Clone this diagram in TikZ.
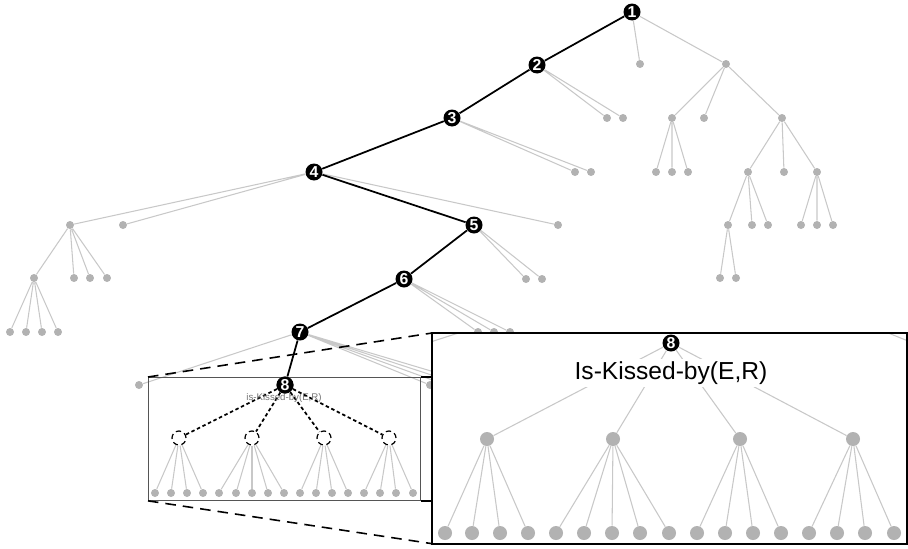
\documentclass[tikz,border=0pt]{standalone}
\usepackage{fontspec}
\setmainfont{Liberation Sans}
\definecolor{edgegray}{RGB}{200,200,200}
\definecolor{dotgray}{RGB}{178,178,178}
\definecolor{framegray}{RGB}{85,85,85}
\tikzset{
	stepnode/.style={circle,fill=black,text=white,inner sep=0pt,minimum size=0.34cm,font=\fontsize{9}{9}\selectfont\bfseries},
	leaf/.style={circle,fill=dotgray,inner sep=0pt,minimum size=0.16cm},
	bigleaf/.style={circle,fill=dotgray,inner sep=0pt,minimum size=0.28cm},
	openslot/.style={circle,draw=black,densely dashed,fill=white,inner sep=0pt,minimum size=0.28cm,line width=0.7pt},
	grayedge/.style={draw=edgegray,line width=0.6pt},
	pathedge/.style={draw=black,line width=1pt},
	guessedge/.style={draw=black,line width=1pt,dash pattern=on 2pt off 1.5pt},
	zoomline/.style={draw=black,line width=0.9pt,dash pattern=on 6pt off 4pt},
}
\begin{document}
\begin{tikzpicture}[x=0.02cm,y=-0.02cm]
		\useasboundingbox (0,0) rectangle (908,548);
		
		% the search path
		\node[stepnode] (n1) at (632,12) {1};
		\node[stepnode] (n2) at (537,65) {2};
		\node[stepnode] (n3) at (452,118) {3};
		\node[stepnode] (n4) at (314,172) {4};
		\node[stepnode] (n5) at (474,225) {5};
		\node[stepnode] (n6) at (404,279) {6};
		\node[stepnode] (n7) at (300,332) {7};
		\node[stepnode] (n8) at (285,385) {8};
		
		% gray nodes, right part
		\node[leaf] (a1) at (640,64) {};
		\node[leaf] (r0) at (726,64) {};
		\node[leaf] (ra) at (672,118) {};
		\node[leaf] (rb) at (704,118) {};
		\node[leaf] (rc) at (782,118) {};
		\node[leaf] (ra1) at (656,172) {};
		\node[leaf] (ra2) at (672,172) {};
		\node[leaf] (ra3) at (688,172) {};
		\node[leaf] (rca) at (748,172) {};
		\node[leaf] (rcb) at (784,172) {};
		\node[leaf] (rcc) at (817,172) {};
		\node[leaf] (rca1) at (728,225) {};
		\node[leaf] (rca2) at (752,225) {};
		\node[leaf] (rca3) at (768,225) {};
		\node[leaf] (rcc1) at (801,225) {};
		\node[leaf] (rcc2) at (817,225) {};
		\node[leaf] (rcc3) at (833,225) {};
		\node[leaf] (rcaa1) at (720,278) {};
		\node[leaf] (rcaa2) at (736,278) {};
		
		% gray nodes along the path
		\node[leaf] (b1) at (607,118) {};
		\node[leaf] (b2) at (623,118) {};
		\node[leaf] (c1) at (575,172) {};
		\node[leaf] (c2) at (591,172) {};
		\node[leaf] (d1) at (70,225) {};
		\node[leaf] (d2) at (123,225) {};
		\node[leaf] (d3) at (558,225) {};
		\node[leaf] (da) at (34,278) {};
		\node[leaf] (db) at (74,278) {};
		\node[leaf] (dc) at (90,278) {};
		\node[leaf] (dd) at (107,278) {};
		\node[leaf] (daa) at (10,332) {};
		\node[leaf] (dab) at (26,332) {};
		\node[leaf] (dac) at (42,332) {};
		\node[leaf] (dad) at (58,332) {};
		\node[leaf] (e1) at (526,279) {};
		\node[leaf] (e2) at (542,279) {};
		\node[leaf] (f1) at (478,332) {};
		\node[leaf] (f2) at (494,332) {};
		\node[leaf] (f3) at (510,332) {};
		\node[leaf] (g1) at (139,385) {};
		\node[leaf] (g2) at (430,385) {};
		\coordinate (g3) at (446,385);
		\coordinate (g4) at (462,385);
		\coordinate (g5) at (478,385);
		
		% gray edges
		\draw[grayedge] (n1) -- (a1) (n1) -- (r0);
		\draw[grayedge] (r0) -- (ra) (r0) -- (rb) (r0) -- (rc);
		\draw[grayedge] (ra) -- (ra1) (ra) -- (ra2) (ra) -- (ra3);
		\draw[grayedge] (rc) -- (rca) (rc) -- (rcb) (rc) -- (rcc);
		\draw[grayedge] (rca) -- (rca1) (rca) -- (rca2) (rca) -- (rca3);
		\draw[grayedge] (rcc) -- (rcc1) (rcc) -- (rcc2) (rcc) -- (rcc3);
		\draw[grayedge] (rca1) -- (rcaa1) (rca1) -- (rcaa2);
		\draw[grayedge] (n2) -- (b1) (n2) -- (b2);
		\draw[grayedge] (n3) -- (c1) (n3) -- (c2);
		\draw[grayedge] (n4) -- (d1) (n4) -- (d2) (n4) -- (d3);
		\draw[grayedge] (d1) -- (da) (d1) -- (db) (d1) -- (dc) (d1) -- (dd);
		\draw[grayedge] (da) -- (daa) (da) -- (dab) (da) -- (dac) (da) -- (dad);
		\draw[grayedge] (n5) -- (e1) (n5) -- (e2);
		\draw[grayedge] (n6) -- (f1) (n6) -- (f2) (n6) -- (f3);
		\draw[grayedge] (n7) -- (g1) (n7) -- (g2) (n7) -- (g3) (n7) -- (g4) (n7) -- (g5);
		
		% black path
		\draw[pathedge] (n1) -- (n2) -- (n3) -- (n4) -- (n5) -- (n6) -- (n7) -- (n8);
		
		% small box round node 8
		\node[draw=framegray,line width=0.5pt,minimum width=5.44cm,minimum height=2.46cm,anchor=north west,inner sep=0pt] (sbox) at (148,377) {};
		\node[openslot] (s1) at (179,438) {};
		\node[openslot] (s2) at (252,438) {};
		\node[openslot] (s3) at (324,438) {};
		\node[openslot] (s4) at (389,438) {};
		\foreach \k in {1,...,4}
			\draw[guessedge] (n8) -- (s\k);
		\node[text=black!55,font=\fontsize{5.5}{5.5}\selectfont] (slabel) at (284,398) {is-Kissed-by(E,R)};
		\node[stepnode] at (n8) {8};
		\foreach \x [count=\i] in {155,171,187,203,219,236,252,268,284,300,316,332,348,364,380,396,413}
			\node[leaf] (sl\i) at (\x,493) {};
		\foreach \i in {1,...,4} \draw[grayedge] (s1) -- (sl\i);
		\foreach \i in {5,...,9} \draw[grayedge] (s2) -- (sl\i);
		\foreach \i in {10,...,13} \draw[grayedge] (s3) -- (sl\i);
		\foreach \i in {14,...,17} \draw[grayedge] (s4) -- (sl\i);
		
		% big box, zoomed view
		\node[fill=white,minimum width=9.48cm,minimum height=4.2cm,anchor=north west,inner sep=0pt] (bbox) at (432,333) {};
		\begin{scope}
			\clip (bbox.north west) rectangle (bbox.south east);
			\coordinate (z7) at (697,256);
			\coordinate (zg1) at (415,347);
			\coordinate (zg2) at (923,347);
			\draw[grayedge] (z7) -- (zg1) (z7) -- (zg2);
		\end{scope}
		\node[bigleaf] (bc1) at (487,439) {};
		\node[bigleaf] (bc2) at (613,439) {};
		\node[bigleaf] (bc3) at (740,439) {};
		\node[bigleaf] (bc4) at (853,439) {};
		\foreach \x [count=\i] in {445,472,500,528,556,584,612,640,669,697,725,753,781,809,837,865,894}
			\node[bigleaf] (bl\i) at (\x,533) {};
		\foreach \i in {1,...,4} \draw[grayedge] (bc1) -- (bl\i);
		\foreach \i in {5,...,9} \draw[grayedge] (bc2) -- (bl\i);
		\foreach \i in {10,...,13} \draw[grayedge] (bc3) -- (bl\i);
		\foreach \i in {14,...,17} \draw[grayedge] (bc4) -- (bl\i);
		\node[stepnode] (b8) at (671,343) {8};
		\foreach \k in {1,...,4}
			\draw[grayedge] (b8) -- (bc\k);
		\node[fill=white,inner sep=1.5pt,font=\fontsize{14}{14}\selectfont] (blabel) at (671,373) {Is-Kissed-by(E,R)};
		\draw[black,line width=1.2pt] (bbox.north west) rectangle (bbox.south east);
		
		% connecting the two boxes
		\draw[zoomline] (sbox.north west) -- (bbox.north west);
		\draw[zoomline] (sbox.south west) -- (bbox.south west);
		\draw[black,line width=0.8pt] (sbox.north east) -- (sbox.north east -| bbox.west);
		\draw[black,line width=0.8pt] (sbox.south east) -- (sbox.south east -| bbox.west);
		
		\end{tikzpicture}
\end{document}
